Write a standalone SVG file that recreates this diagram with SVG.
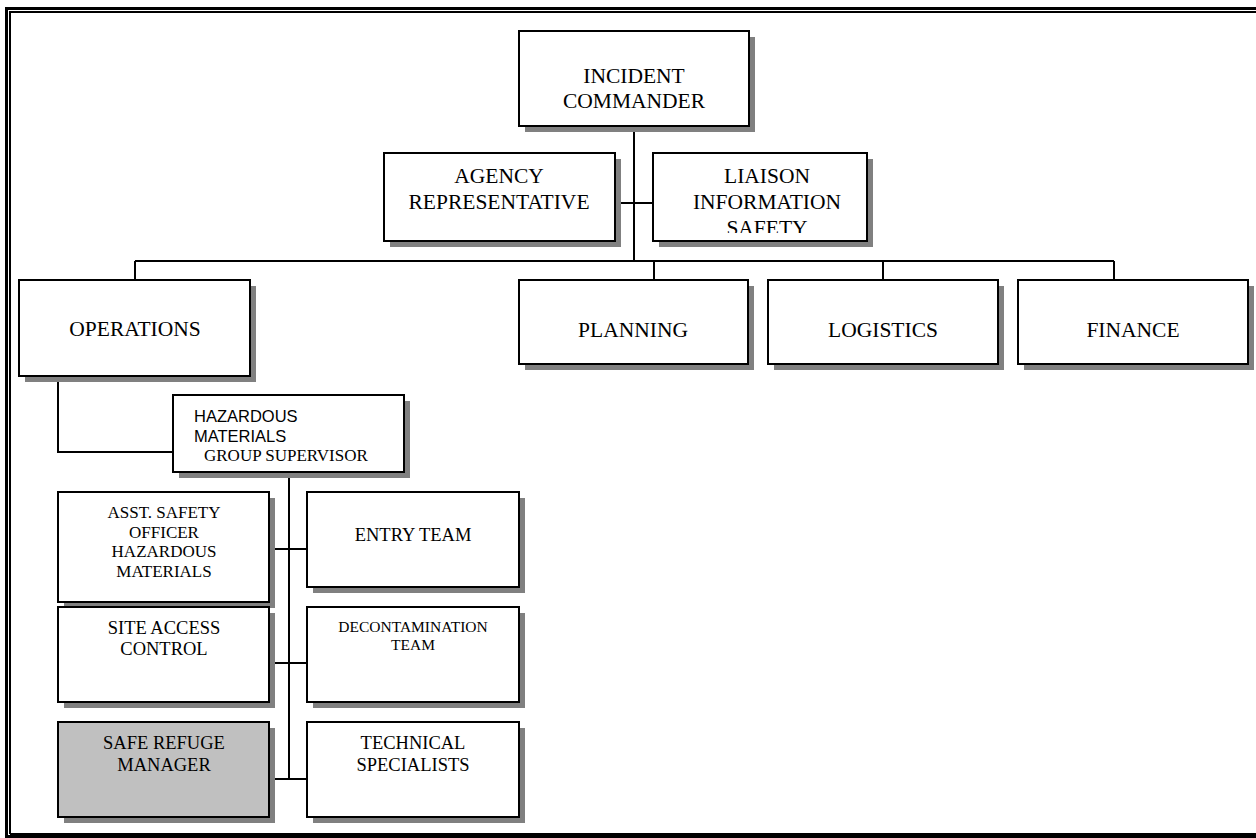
<svg xmlns="http://www.w3.org/2000/svg" width="1256" height="838" viewBox="0 0 1256 838">
<style>
.box{fill:#fff;stroke:#000;stroke-width:2}
.grey{fill:#c0c0c0;stroke:#000;stroke-width:2}
.sh{fill:#808080}
.ln{fill:none;stroke:#000;stroke-width:2}
.t{font-family:"Liberation Serif","Times New Roman",serif;fill:#000;text-anchor:middle}
.big{font-size:21.5px}
.mid{font-size:18.5px}
.sm{font-size:17px}
.xs{font-size:15.5px}
.sans{font-family:"Liberation Sans",Arial,sans-serif;font-size:16.5px;fill:#000}
</style>
<defs>
<clipPath id="clipLiaison"><rect x="654" y="154" width="212" height="79"/></clipPath>
</defs>
<rect width="1256" height="838" fill="#fff"/>
<g id="frame">
<path d="M6.5 840 V8.5 H1260" fill="none" stroke="#000" stroke-width="3"/>
<path d="M5 836.5 H1260" fill="none" stroke="#000" stroke-width="3"/>
<path d="M10 834 V12 H1260 M10 834 H1260" fill="none" stroke="#000" stroke-width="2"/>
</g>
<g id="connectors">
<path class="ln" d="M634 126 V261"/>
<path class="ln" d="M615 203 H653"/>
<path class="ln" d="M135 261 H1114"/>
<path class="ln" d="M135 261 V280 M654 261 V280 M883 261 V280 M1114 261 V280"/>
<path class="ln" d="M58 376 V452 H173"/>
<path class="ln" d="M289 472 V779"/>
<path class="ln" d="M269 549 H307 M269 663 H307 M269 779 H307"/>
</g>
<g id="incident-commander">
<rect class="sh" x="525" y="37" width="230" height="95"/>
<rect class="box" x="519" y="31" width="230" height="95"/>
<text class="t big" x="634" y="83">INCIDENT</text>
<text class="t big" x="634" y="108">COMMANDER</text>
</g>
<g id="agency-representative">
<rect class="sh" x="390" y="159" width="231" height="88"/>
<rect class="box" x="384" y="153" width="231" height="88"/>
<text class="t big" x="499" y="183">AGENCY</text>
<text class="t big" x="499" y="209">REPRESENTATIVE</text>
</g>
<g id="liaison">
<rect class="sh" x="659" y="159" width="214" height="88"/>
<rect class="box" x="653" y="153" width="214" height="88"/>
<g clip-path="url(#clipLiaison)">
<text class="t big" x="767" y="183">LIAISON</text>
<text class="t big" x="767" y="209">INFORMATION</text>
<text class="t big" x="767" y="235">SAFETY</text>
</g>
</g>
<g id="operations">
<rect class="sh" x="25" y="286" width="231" height="96"/>
<rect class="box" x="19" y="280" width="231" height="96"/>
<text class="t big" x="135" y="336">OPERATIONS</text>
</g>
<g id="planning">
<rect class="sh" x="525" y="286" width="229" height="84"/>
<rect class="box" x="519" y="280" width="229" height="84"/>
<text class="t big" x="633" y="337">PLANNING</text>
</g>
<g id="logistics">
<rect class="sh" x="774" y="286" width="230" height="84"/>
<rect class="box" x="768" y="280" width="230" height="84"/>
<text class="t big" x="883" y="337">LOGISTICS</text>
</g>
<g id="finance">
<rect class="sh" x="1024" y="286" width="230" height="84"/>
<rect class="box" x="1018" y="280" width="230" height="84"/>
<text class="t big" x="1133" y="337">FINANCE</text>
</g>
<g id="hazmat-supervisor">
<rect class="sh" x="179" y="401" width="231" height="77"/>
<rect class="box" x="173" y="395" width="231" height="77"/>
<text class="sans" x="194" y="422">HAZARDOUS</text>
<text class="sans" x="194" y="442">MATERIALS</text>
<text class="t" x="204" y="461" style="text-anchor:start;font-size:17px">GROUP SUPERVISOR</text>
</g>
<g id="asst-safety-officer">
<rect class="sh" x="64" y="498" width="211" height="110"/>
<rect class="box" x="58" y="492" width="211" height="110"/>
<text class="t sm" x="164" y="518">ASST. SAFETY</text>
<text class="t sm" x="164" y="538">OFFICER</text>
<text class="t sm" x="164" y="557">HAZARDOUS</text>
<text class="t sm" x="164" y="577">MATERIALS</text>
</g>
<g id="entry-team">
<rect class="sh" x="313" y="498" width="212" height="95"/>
<rect class="box" x="307" y="492" width="212" height="95"/>
<text class="t mid" x="413" y="541">ENTRY TEAM</text>
</g>
<g id="site-access-control">
<rect class="sh" x="64" y="613" width="211" height="95"/>
<rect class="box" x="58" y="607" width="211" height="95"/>
<text class="t mid" x="164" y="634">SITE ACCESS</text>
<text class="t mid" x="164" y="655">CONTROL</text>
</g>
<g id="decontamination-team">
<rect class="sh" x="313" y="613" width="212" height="95"/>
<rect class="box" x="307" y="607" width="212" height="95"/>
<text class="t xs" x="413" y="632">DECONTAMINATION</text>
<text class="t xs" x="413" y="650">TEAM</text>
</g>
<g id="safe-refuge-manager">
<rect class="sh" x="64" y="728" width="211" height="95"/>
<rect class="grey" x="58" y="722" width="211" height="95"/>
<text class="t mid" x="164" y="749">SAFE REFUGE</text>
<text class="t mid" x="164" y="771">MANAGER</text>
</g>
<g id="technical-specialists">
<rect class="sh" x="313" y="728" width="212" height="95"/>
<rect class="box" x="307" y="722" width="212" height="95"/>
<text class="t mid" x="413" y="749">TECHNICAL</text>
<text class="t mid" x="413" y="771">SPECIALISTS</text>
</g>
</svg>
